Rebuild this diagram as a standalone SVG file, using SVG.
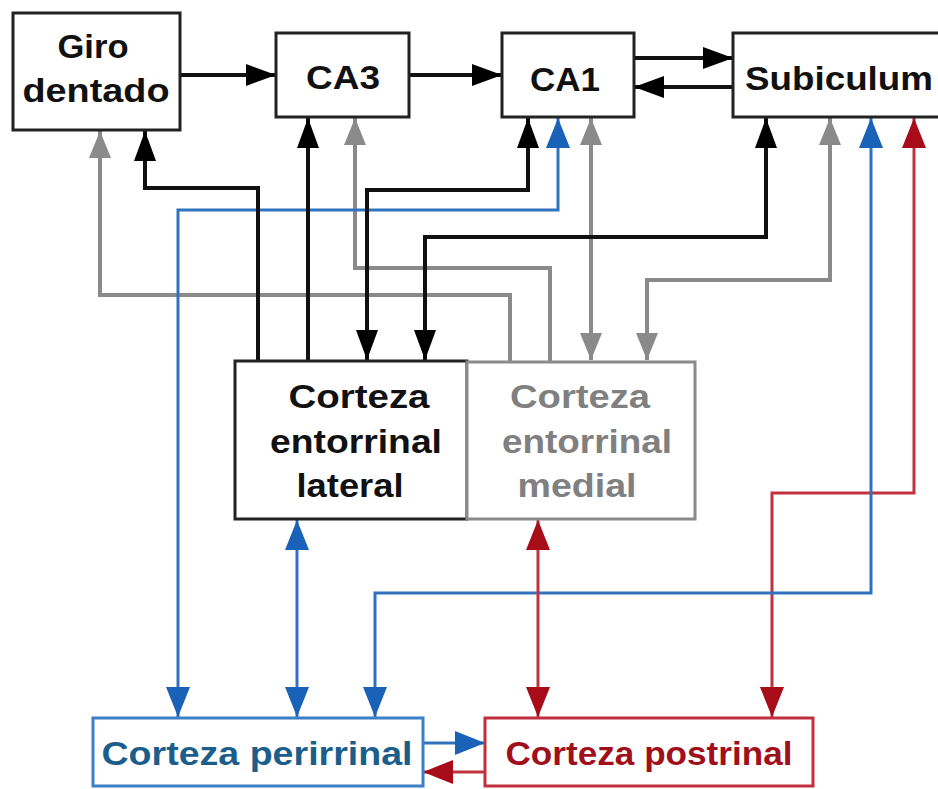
<svg xmlns="http://www.w3.org/2000/svg" width="938" height="789" viewBox="0 0 938 789">
<style>
.box{fill:#fff;stroke-width:3}
.t{font-family:"Liberation Sans",Arial,sans-serif;font-weight:bold;font-size:33px;text-anchor:middle}
.k{fill:none;stroke:#111;stroke-width:4}
.g{fill:none;stroke:#8a8a8a;stroke-width:4}
.b{fill:none;stroke:#3172c0;stroke-width:3}
.r{fill:none;stroke:#c0323e;stroke-width:3}
</style>
<defs>
<marker id="mk" viewBox="0 0 30 22" refX="30" refY="11" markerWidth="30" markerHeight="22" markerUnits="userSpaceOnUse" orient="auto-start-reverse"><path d="M0,0 L30,11 L0,22 z" fill="#000"/></marker>
<marker id="mg" viewBox="0 0 27 22" refX="27" refY="11" markerWidth="27" markerHeight="22" markerUnits="userSpaceOnUse" orient="auto-start-reverse"><path d="M0,0 L27,11 L0,22 z" fill="#8a8a8a"/></marker>
<marker id="mb" viewBox="0 0 30 24" refX="30" refY="12" markerWidth="30" markerHeight="24" markerUnits="userSpaceOnUse" orient="auto-start-reverse"><path d="M0,0 L30,12 L0,24 z" fill="#1a62b8"/></marker>
<marker id="mr" viewBox="0 0 30 24" refX="30" refY="12" markerWidth="30" markerHeight="24" markerUnits="userSpaceOnUse" orient="auto-start-reverse"><path d="M0,0 L30,12 L0,24 z" fill="#a80c18"/></marker>
</defs>
<rect width="938" height="789" fill="#fff"/>
<g id="connectors">
<path class="k" d="M180,75 H276" marker-end="url(#mk)"/>
<path class="k" d="M409,75 H502" marker-end="url(#mk)"/>
<path class="k" d="M634,58 H733" marker-end="url(#mk)"/>
<path class="k" d="M733,87 H634" marker-end="url(#mk)"/>
<path class="g" d="M510,361 V295 H100 V131" marker-end="url(#mg)"/>
<path class="g" d="M550,361 V268 H355 V118" marker-end="url(#mg)"/>
<path class="g" d="M591,118 V360" marker-start="url(#mg)" marker-end="url(#mg)"/>
<path class="g" d="M830,118 V280 H647 V360" marker-start="url(#mg)" marker-end="url(#mg)"/>
<path class="b" d="M558,118 V210 H178 V717" marker-start="url(#mb)" marker-end="url(#mb)"/>
<path class="k" d="M258,361 V188 H145 V131" marker-end="url(#mk)"/>
<path class="k" d="M308,361 V118" marker-end="url(#mk)"/>
<path class="k" d="M528,118 V190 H367 V360" marker-start="url(#mk)" marker-end="url(#mk)"/>
<path class="k" d="M766,118 V237 H425 V360" marker-start="url(#mk)" marker-end="url(#mk)"/>
<path class="b" d="M297,520 V717" marker-start="url(#mb)" marker-end="url(#mb)"/>
<path class="r" d="M914,118 V493 H772 V717" marker-start="url(#mr)" marker-end="url(#mr)"/>
<path class="b" d="M871,118 V593 H375 V717" marker-start="url(#mb)" marker-end="url(#mb)"/>
<path class="r" d="M538,520 V717" marker-start="url(#mr)" marker-end="url(#mr)"/>
<path class="b" d="M423,743 H485" marker-end="url(#mb)"/>
<path class="r" d="M485,772 H423" marker-end="url(#mr)"/>
</g>
<g id="giro">
<rect class="box" x="13" y="13" width="167" height="117" stroke="#222"/>
<text class="t" x="93" y="58" fill="#111" textLength="71" lengthAdjust="spacingAndGlyphs">Giro</text>
<text class="t" x="96" y="102" fill="#111" textLength="147" lengthAdjust="spacingAndGlyphs">dentado</text>
</g>
<g id="ca3">
<rect class="box" x="276" y="33" width="133" height="84" stroke="#222"/>
<text class="t" x="343" y="89" fill="#111" textLength="74" lengthAdjust="spacingAndGlyphs">CA3</text>
</g>
<g id="ca1">
<rect class="box" x="502" y="33" width="132" height="84" stroke="#222"/>
<text class="t" x="565" y="91" fill="#111" textLength="70" lengthAdjust="spacingAndGlyphs">CA1</text>
</g>
<g id="subiculum">
<rect class="box" x="733" y="33" width="215" height="84" stroke="#222"/>
<text class="t" x="839" y="90" fill="#111" textLength="188" lengthAdjust="spacingAndGlyphs">Subiculum</text>
</g>
<g id="lateral">
<rect class="box" x="235" y="361" width="232" height="158" stroke="#222"/>
<text class="t" x="359" y="408" fill="#111" textLength="141" lengthAdjust="spacingAndGlyphs">Corteza</text>
<text class="t" x="356" y="453" fill="#111" textLength="172" lengthAdjust="spacingAndGlyphs">entorrinal</text>
<text class="t" x="350" y="497" fill="#111" textLength="107" lengthAdjust="spacingAndGlyphs">lateral</text>
</g>
<g id="medial">
<rect class="box" x="467" y="362" width="228" height="157" stroke="#8a8a8a"/>
<text class="t" x="580" y="408" fill="#808080" textLength="140" lengthAdjust="spacingAndGlyphs">Corteza</text>
<text class="t" x="587" y="453" fill="#808080" textLength="170" lengthAdjust="spacingAndGlyphs">entorrinal</text>
<text class="t" x="577" y="497" fill="#808080" textLength="119" lengthAdjust="spacingAndGlyphs">medial</text>
</g>
<g id="perirrinal">
<rect class="box" x="93" y="718" width="330" height="68" stroke="#3b7fc4"/>
<text class="t" x="257" y="765" fill="#1b5e8c" font-size="30" textLength="311" lengthAdjust="spacingAndGlyphs">Corteza perirrinal</text>
</g>
<g id="postrinal">
<rect class="box" x="485" y="718" width="328" height="68" stroke="#c0313d"/>
<text class="t" x="649" y="765" fill="#a0101c" font-size="30" textLength="287" lengthAdjust="spacingAndGlyphs">Corteza postrinal</text>
</g>
</svg>
